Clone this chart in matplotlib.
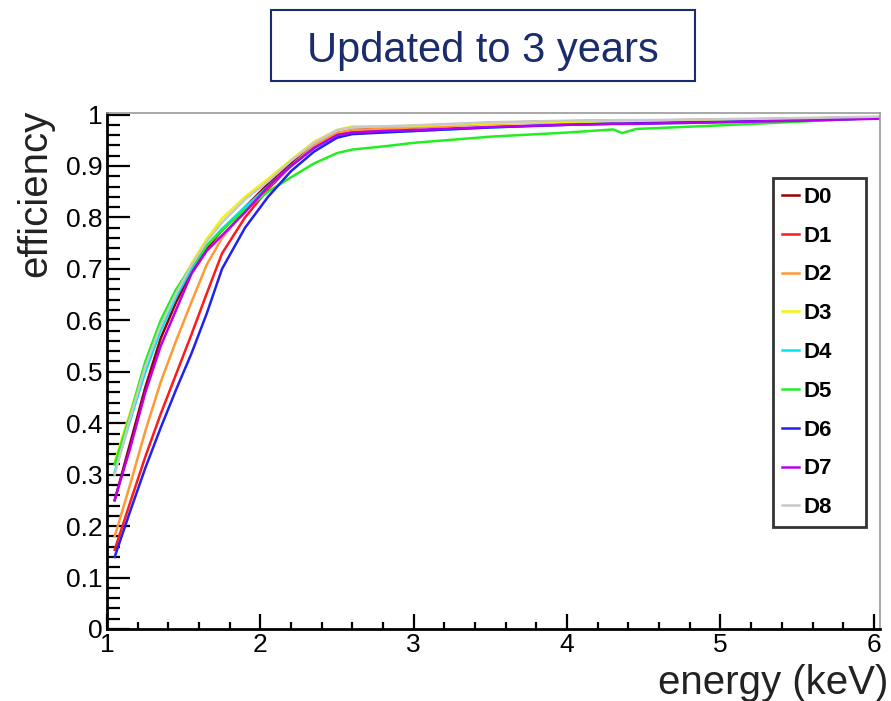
import matplotlib
matplotlib.use("Agg")
import matplotlib.pyplot as plt
from matplotlib.ticker import MultipleLocator

plt.rcParams['font.family'] = ['Liberation Sans', 'DejaVu Sans']

# energy grid (keV) shared by all detectors
energy = [1.05, 1.15, 1.25, 1.35, 1.45, 1.55, 1.65, 1.75, 1.9, 2.05, 2.2, 2.35,
          2.5, 2.6, 2.8, 3.0, 3.5, 4.0, 4.3, 4.36, 4.45, 5.0, 5.5, 6.04]

d0 = [0.25, 0.36, 0.47, 0.565, 0.635, 0.695, 0.74, 0.775, 0.82, 0.865, 0.905, 0.94,
      0.963, 0.97, 0.973, 0.976, 0.984, 0.987, 0.988, 0.988, 0.988, 0.990, 0.992, 0.995]
d1 = [0.154, 0.245, 0.335, 0.418, 0.495, 0.572, 0.652, 0.73, 0.80, 0.855, 0.90, 0.935,
      0.962, 0.968, 0.972, 0.975, 0.983, 0.986, 0.987, 0.987, 0.987, 0.989, 0.991, 0.994]
d2 = [0.18, 0.28, 0.385, 0.48, 0.56, 0.635, 0.708, 0.76, 0.815, 0.86, 0.90, 0.94,
      0.965, 0.97, 0.972, 0.975, 0.982, 0.985, 0.986, 0.986, 0.986, 0.988, 0.990, 0.993]
d3 = [0.325, 0.42, 0.515, 0.595, 0.655, 0.71, 0.758, 0.798, 0.84, 0.875, 0.912, 0.947,
      0.97, 0.977, 0.977, 0.978, 0.983, 0.986, 0.987, 0.987, 0.987, 0.989, 0.991, 0.995]
d4 = [0.305, 0.405, 0.50, 0.58, 0.645, 0.70, 0.745, 0.778, 0.82, 0.86, 0.90, 0.935,
      0.958, 0.963, 0.966, 0.968, 0.975, 0.981, 0.982, 0.982, 0.982, 0.985, 0.988, 0.993]
d5 = [0.32, 0.415, 0.52, 0.60, 0.66, 0.705, 0.745, 0.775, 0.815, 0.85, 0.878, 0.905,
      0.925, 0.932, 0.938, 0.945, 0.957, 0.965, 0.971, 0.964, 0.972, 0.979, 0.986, 0.994]
d6 = [0.14, 0.228, 0.313, 0.391, 0.465, 0.535, 0.613, 0.70, 0.78, 0.84, 0.89, 0.928,
      0.955, 0.962, 0.965, 0.968, 0.975, 0.980, 0.982, 0.982, 0.983, 0.986, 0.989, 0.993]
d7 = [0.251, 0.35, 0.46, 0.55, 0.62, 0.69, 0.735, 0.765, 0.81, 0.86, 0.90, 0.935,
      0.96, 0.965, 0.968, 0.970, 0.976, 0.980, 0.982, 0.982, 0.982, 0.985, 0.988, 0.992]
d8 = [0.30, 0.41, 0.51, 0.59, 0.652, 0.707, 0.753, 0.79, 0.835, 0.87, 0.91, 0.945,
      0.97, 0.975, 0.977, 0.979, 0.985, 0.988, 0.989, 0.989, 0.989, 0.991, 0.993, 0.996]

labels = ["D0", "D1", "D2", "D3", "D4", "D5", "D6", "D7", "D8"]
series = [d0, d1, d2, d3, d4, d5, d6, d7, d8]
colors = ["#990000", "#ff1a1a", "#ff9933", "#f5f500", "#00e5ee",
          "#22ee22", "#2222ee", "#bb00ee", "#c8c8c8"]

fig = plt.figure(figsize=(8.91, 7.01), dpi=100)
ax = fig.add_axes([107/891, 1 - 629/701, 773/891, 516/701])

for lab, vals, col in zip(labels, series, colors):
    ax.plot(energy, vals, color=col, lw=1.8, label=lab)

ax.set_xlim(1, 6.04)
ax.set_ylim(0, 1.003)

ax.xaxis.set_major_locator(MultipleLocator(1))
ax.xaxis.set_minor_locator(MultipleLocator(0.2))
ax.yaxis.set_minor_locator(MultipleLocator(0.02))
ax.set_yticks([0, 0.1, 0.2, 0.3, 0.4, 0.5, 0.6, 0.7, 0.8, 0.9, 1.0])
ax.set_yticklabels(["0", "0.1", "0.2", "0.3", "0.4", "0.5", "0.6", "0.7", "0.8", "0.9", "1"])

ax.tick_params(axis='both', which='both', direction='in', width=1.6,
               top=False, right=False, labelsize=19, colors='black')
ax.tick_params(axis='y', which='major', length=16.5, pad=3)
ax.tick_params(axis='y', which='minor', length=9.4)
ax.tick_params(axis='x', which='major', length=10.8, pad=3)
ax.tick_params(axis='x', which='minor', length=5)

for s in ['left', 'bottom']:
    ax.spines[s].set_linewidth(2)
    ax.spines[s].set_color('black')
for s in ['top', 'right']:
    ax.spines[s].set_linewidth(1.2)
    ax.spines[s].set_color('#999999')

leg = ax.legend(loc='upper left', bbox_to_anchor=(0.862, 0.0, 0.12, 0.874),
                mode='expand', prop={'weight': 'bold', 'size': 16}, frameon=True,
                fancybox=False, handlelength=0.75, handletextpad=0.2,
                labelspacing=0.8, borderpad=0.4, borderaxespad=0)
leg.get_frame().set_edgecolor('black')
leg.get_frame().set_linewidth(2)

fig.text(35/891, 1 - 110/701, "efficiency", rotation=90, ha='center', va='top',
         fontsize=29, color='#222222')
fig.text(888/891, 1 - 683/701, "energy (keV)", ha='right', va='center',
         fontsize=29, color='#222222')

# title box
navy = '#1a2c6b'
fig.patches.append(plt.Rectangle((271/891, 1 - 81/701), 424/891, 71/701,
                                 transform=fig.transFigure, fill=False,
                                 edgecolor=navy, lw=1.5))
fig.text(483/891, 1 - 62/701, "Updated to 3 years", ha='center', va='baseline',
         fontsize=30, color=navy)

fig.savefig("out.png", dpi=100)
